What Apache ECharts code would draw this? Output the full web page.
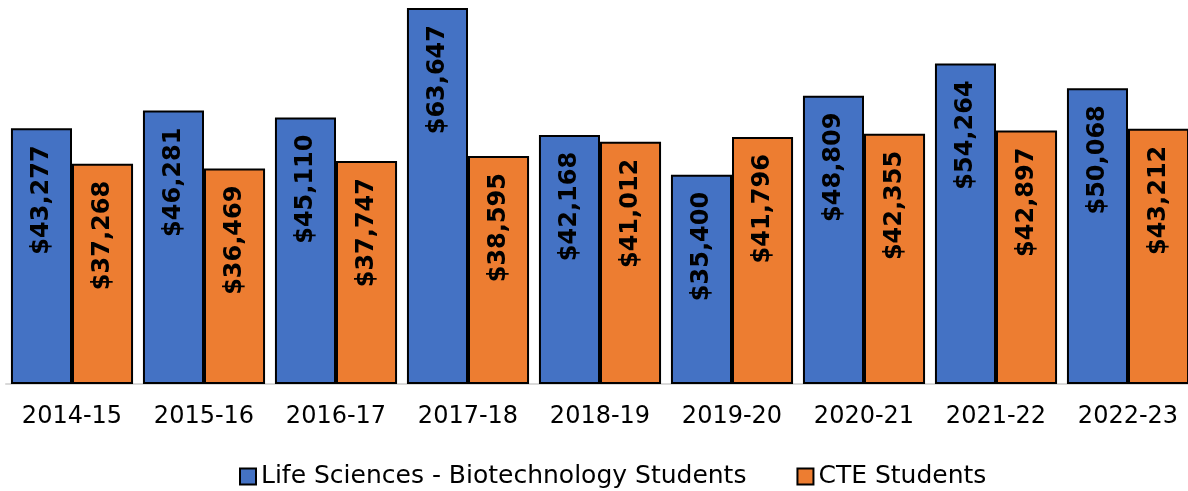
<!DOCTYPE html>
<html>
<head>
<meta charset="utf-8">
<script src="https://cdn.jsdelivr.net/npm/echarts@6/dist/echarts.min.js"></script>
<style>
  html, body { margin: 0; padding: 0; background: #fff; }
  #chart { width: 1188px; height: 491px; }
</style>
</head>
<body>
<div id="chart"></div>
<script>
// school years on the x axis
var years = ['2014-15', '2015-16', '2016-17', '2017-18', '2018-19', '2019-20', '2020-21', '2021-22', '2022-23'];
// average wages
var lifeSciences = [43277, 46281, 45110, 63647, 42168, 35400, 48809, 54264, 50068];
var cteStudents = [37268, 36469, 37747, 38595, 41012, 41796, 42355, 42897, 43212];

var font = 'DejaVu Sans';

function money(p) {
  return '$' + p.value.toLocaleString('en-US');
}

var barLabel = {
  show: true,
  position: 'insideTop',
  rotate: 90,
  align: 'right',
  verticalAlign: 'middle',
  distance: 17,
  formatter: money,
  fontFamily: font,
  fontWeight: 'bold',
  fontSize: 24,
  color: '#000'
};

var myChart = echarts.init(document.getElementById('chart'));
myChart.setOption({
  animation: false,
  grid: { left: 6, top: 0, width: 1188, bottom: 107, containLabel: false, outerBoundsMode: 'none' },
  legend: {
    top: 459,
    left: 234,
    icon: 'rect',
    itemWidth: 16,
    itemHeight: 16,
    itemGap: 50,
    textStyle: { fontFamily: font, fontSize: 25, color: '#000' },
    data: ['Life Sciences - Biotechnology Students', 'CTE Students']
  },
  xAxis: {
    type: 'category',
    data: years,
    axisLine: { lineStyle: { color: '#d9d9d9', width: 2 } },
    axisTick: { show: false },
    axisLabel: { fontFamily: font, fontSize: 24, color: '#000', margin: 21 }
  },
  yAxis: {
    type: 'value',
    min: 0,
    max: 65000,
    show: false,
    splitLine: { show: false }
  },
  series: [
    {
      name: 'Life Sciences - Biotechnology Students',
      type: 'bar',
      data: lifeSciences,
      barGap: '0%',
      barCategoryGap: '7.5%',
      itemStyle: { color: '#4472C4', borderColor: '#000', borderWidth: 2 },
      label: barLabel
    },
    {
      name: 'CTE Students',
      type: 'bar',
      data: cteStudents,
      itemStyle: { color: '#ED7D31', borderColor: '#000', borderWidth: 2 },
      label: barLabel
    }
  ]
});
</script>
</body>
</html>
